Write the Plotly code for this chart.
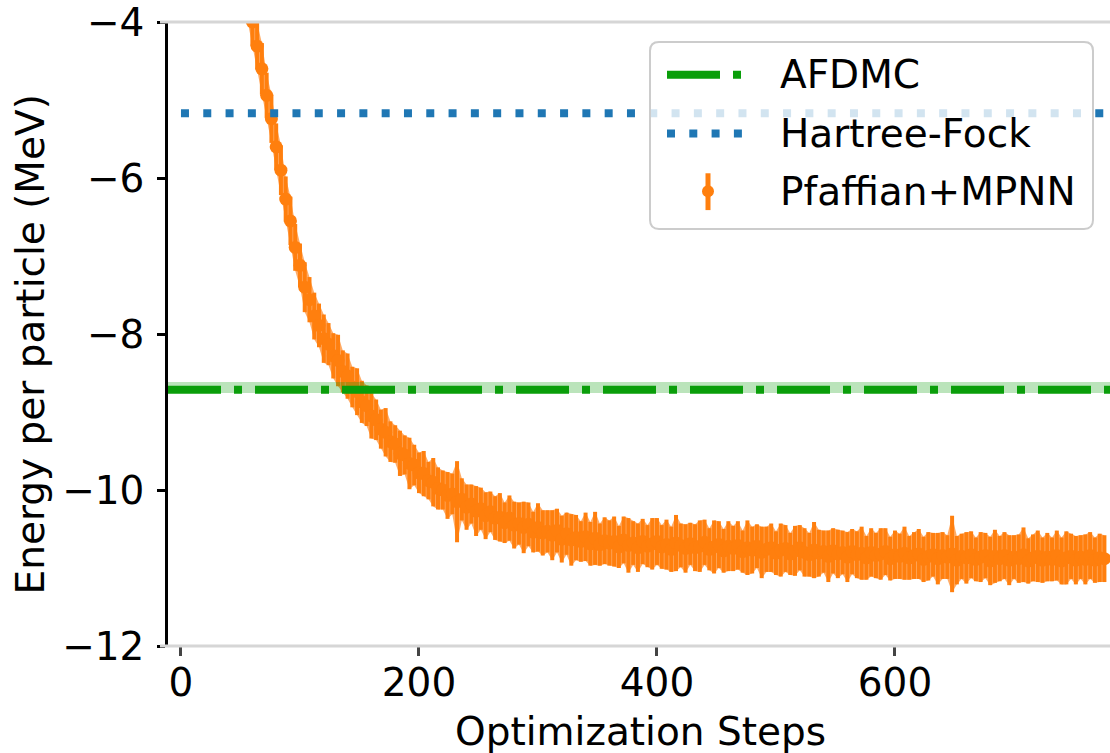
import plotly.graph_objects as go

# ---- data -------------------------------------------------------------
STEP_STRIDE = 4
steps = list(range(0, 780, STEP_STRIDE))

energy = [
    1.00, 0.70, 0.38, 0.08, -0.25, -0.60, -0.93, -1.30, -1.62, -2.00,
    -2.33, -2.70, -3.01, -3.36, -3.70, -4.00, -4.31, -4.60, -4.94, -5.24,
    -5.60, -5.90, -6.27, -6.55, -6.89, -7.12, -7.40, -7.56, -7.77, -7.89,
    -8.06, -8.13, -8.28, -8.34, -8.48, -8.54, -8.68, -8.74, -8.87, -8.92,
    -9.05, -9.10, -9.22, -9.26, -9.38, -9.41, -9.53, -9.55, -9.66, -9.68,
    -9.78, -9.79, -9.88, -9.90, -9.98, -10.00, -10.07, -10.05, -10.15, -10.12,
    -10.22, -10.18, -10.27, -10.24, -10.33, -10.28, -10.36, -10.35, -10.42, -10.36,
    -10.45, -10.43, -10.48, -10.44, -10.54, -10.48, -10.55, -10.53, -10.58, -10.52,
    -10.63, -10.56, -10.64, -10.61, -10.66, -10.60, -10.69, -10.62, -10.70, -10.65,
    -10.68, -10.66, -10.73, -10.64, -10.71, -10.68, -10.74, -10.66, -10.72, -10.69,
    -10.66, -10.73, -10.70, -10.76, -10.68, -10.71, -10.75, -10.69, -10.74, -10.72,
    -10.67, -10.76, -10.73, -10.70, -10.78, -10.72, -10.75, -10.71, -10.79, -10.74,
    -10.77, -10.72, -10.80, -10.76, -10.74, -10.81, -10.77, -10.75, -10.82, -10.78,
    -10.74, -10.80, -10.83, -10.77, -10.81, -10.79, -10.85, -10.78, -10.82, -10.80,
    -10.86, -10.79, -10.83, -10.81, -10.87, -10.80, -10.84, -10.82, -10.79, -10.88,
    -10.83, -10.85, -10.81, -10.87, -10.84, -10.82, -10.89, -10.85, -10.83, -10.88,
    -10.84, -10.86, -10.82, -10.90, -10.85, -10.87, -10.83, -10.89, -10.86, -10.84,
    -10.91, -10.85, -10.88, -10.84, -10.90, -10.86, -10.88, -10.83, -10.91, -10.87,
    -10.85, -10.90, -10.86, -10.89, -10.84, -10.91, -10.87, -10.85, -10.90, -10.86,
    -10.89, -10.84, -10.90, -10.87, -10.88,
]

energy_err = [
    0.30, 0.31, 0.29, 0.32, 0.30, 0.31, 0.29, 0.30, 0.32, 0.30,
    0.29, 0.31, 0.30, 0.32, 0.29, 0.31, 0.30, 0.33, 0.29, 0.31,
    0.30, 0.32, 0.29, 0.31, 0.30, 0.28, 0.32, 0.29, 0.30, 0.28,
    0.31, 0.27, 0.29, 0.33, 0.27, 0.29, 0.26, 0.30, 0.27, 0.26,
    0.29, 0.26, 0.25, 0.31, 0.26, 0.24, 0.29, 0.25, 0.33, 0.26,
    0.26, 0.29, 0.24, 0.31, 0.27, 0.25, 0.30, 0.26, 0.52, 0.27,
    0.29, 0.25, 0.32, 0.27, 0.30, 0.26, 0.28, 0.31, 0.26, 0.29,
    0.30, 0.27, 0.33, 0.28, 0.26, 0.31, 0.29, 0.27, 0.32, 0.28,
    0.30, 0.27, 0.33, 0.29, 0.26, 0.31, 0.28, 0.34, 0.27, 0.30,
    0.29, 0.32, 0.27, 0.30, 0.35, 0.28, 0.31, 0.29, 0.27, 0.33,
    0.30, 0.28, 0.32, 0.29, 0.36, 0.28, 0.31, 0.27, 0.30, 0.33,
    0.29, 0.27, 0.34, 0.30, 0.28, 0.32, 0.29, 0.31, 0.27, 0.35,
    0.30, 0.28, 0.33, 0.29, 0.31, 0.28, 0.34, 0.30, 0.27, 0.32,
    0.29, 0.31, 0.28, 0.36, 0.30, 0.27, 0.33, 0.29, 0.31, 0.28,
    0.32, 0.29, 0.30, 0.34, 0.28, 0.31, 0.29, 0.33, 0.30, 0.28,
    0.31, 0.29, 0.34, 0.28, 0.30, 0.32, 0.29, 0.31, 0.28, 0.33,
    0.30, 0.28, 0.49, 0.31, 0.29, 0.33, 0.30, 0.28, 0.32, 0.29,
    0.31, 0.34, 0.29, 0.30, 0.32, 0.28, 0.31, 0.35, 0.29, 0.30,
    0.33, 0.29, 0.31, 0.28, 0.32, 0.30, 0.34, 0.29, 0.31, 0.28,
    0.32, 0.30, 0.29, 0.31, 0.30,
]

HARTREE_FOCK = -5.17
AFDMC = -8.715
AFDMC_BAND = [-8.755, -8.615]

x_ticks = [0, 200, 400, 600]
y_ticks = [-12, -10, -8, -6, -4]
y_tick_text = ["\u221212", "\u221210", "\u22128", "\u22126", "\u22124"]

series_names = ["AFDMC", "Hartree-Fock", "Pfaffian+MPNN"]

# ---- styling ----------------------------------------------------------
ORANGE = "#ff7f0e"
ORANGE_LIGHT = "rgba(255,168,95,0.95)"
GREEN = "#0a9e0a"
BLUE = "#1f77b4"
FONT = "DejaVu Sans"
FS = 39

W, H = 1110, 753
PL, PR, PT, PB = 168, 1110, 19, 646  # plot area edges in pixels


def px_x(p):
    return (p - PL) / (PR - PL)


def px_y(p):
    return (PB - p) / (PB - PT)


upper = [e + d for e, d in zip(energy, energy_err)]
lower = [e - d for e, d in zip(energy, energy_err)]

fig = go.Figure()

# error envelope (light orange between the bars)
fig.add_trace(go.Scatter(x=steps, y=upper, mode="lines", line=dict(width=0),
                         hoverinfo="skip", showlegend=False))
fig.add_trace(go.Scatter(x=steps, y=lower, mode="lines", line=dict(width=0),
                         fill="tonexty", fillcolor=ORANGE_LIGHT,
                         hoverinfo="skip", showlegend=False))

# energy estimates with error bars
fig.add_trace(go.Scatter(
    x=steps, y=energy, mode="markers", name=series_names[2],
    marker=dict(size=13, color=ORANGE, line=dict(width=0)),
    error_y=dict(type="data", array=energy_err, visible=True,
                 thickness=4, width=0, color=ORANGE),
    showlegend=False,
))

shapes = []

# AFDMC uncertainty band and reference line
shapes.append(dict(type="rect", xref="x domain", yref="y", x0=0, x1=1,
                   y0=AFDMC_BAND[0], y1=AFDMC_BAND[1],
                   fillcolor="rgba(10,158,10,0.28)", line=dict(width=0),
                   layer="above"))
shapes.append(dict(type="line", xref="x domain", yref="y", x0=0, x1=1,
                   y0=AFDMC, y1=AFDMC, layer="above",
                   line=dict(color=GREEN, width=8, dash="53px,13px,8px,13px")))

# Hartree-Fock reference line
shapes.append(dict(type="line", xref="x", yref="y", x0=0, x1=790,
                   y0=HARTREE_FOCK, y1=HARTREE_FOCK, layer="above",
                   line=dict(color=BLUE, width=8, dash="8px,14.3px")))

# light top / bottom frame lines
for yy in (PT, PB):
    shapes.append(dict(type="line", xref="paper", yref="paper",
                       x0=px_x(160), x1=1.0, y0=px_y(yy), y1=px_y(yy),
                       line=dict(color="#d6d6d6", width=3), layer="above"))

# legend frame (rounded)
lx0, lx1, ly0, ly1, r = 650, 1093, 39, 227, 9
path = (
    f"M {px_x(lx0 + r)},{px_y(ly0)} L {px_x(lx1 - r)},{px_y(ly0)} "
    f"Q {px_x(lx1)},{px_y(ly0)} {px_x(lx1)},{px_y(ly0 + r)} "
    f"L {px_x(lx1)},{px_y(ly1 - r)} "
    f"Q {px_x(lx1)},{px_y(ly1)} {px_x(lx1 - r)},{px_y(ly1)} "
    f"L {px_x(lx0 + r)},{px_y(ly1)} "
    f"Q {px_x(lx0)},{px_y(ly1)} {px_x(lx0)},{px_y(ly1 - r)} "
    f"L {px_x(lx0)},{px_y(ly0 + r)} "
    f"Q {px_x(lx0)},{px_y(ly0)} {px_x(lx0 + r)},{px_y(ly0)} Z"
)
shapes.append(dict(type="path", xref="paper", yref="paper", path=path,
                   fillcolor="rgba(255,255,255,0.8)",
                   line=dict(color="#cccccc", width=2), layer="above"))

# legend handles
row_y = [72, 131, 189]
shapes.append(dict(type="line", xref="paper", yref="paper",
                   x0=px_x(667), x1=px_x(743), y0=px_y(row_y[0]), y1=px_y(row_y[0]),
                   line=dict(color=GREEN, width=8, dash="53px,13px,8px,13px"),
                   layer="above"))
shapes.append(dict(type="line", xref="paper", yref="paper",
                   x0=px_x(667), x1=px_x(745), y0=px_y(row_y[1]), y1=px_y(row_y[1]),
                   line=dict(color=BLUE, width=8, dash="8px,14.3px"),
                   layer="above"))
shapes.append(dict(type="line", xref="paper", yref="paper",
                   x0=px_x(708), x1=px_x(708), y0=px_y(171), y1=px_y(208),
                   line=dict(color=ORANGE, width=5), layer="above"))
shapes.append(dict(type="circle", xref="paper", yref="paper",
                   x0=px_x(702), x1=px_x(714), y0=px_y(row_y[2] - 6), y1=px_y(row_y[2] + 6),
                   fillcolor=ORANGE, line=dict(width=0), layer="above"))

annotations = []
for name, yy in zip(series_names, row_y):
    annotations.append(dict(text=name, xref="paper", yref="paper",
                            x=px_x(778), y=px_y(yy), xanchor="left", yanchor="middle",
                            showarrow=False, font=dict(family=FONT, size=FS, color="black")))

# axis titles
annotations.append(dict(text="Optimization Steps", xref="paper", yref="paper",
                        x=px_x(640), y=px_y(732), xanchor="center", yanchor="middle",
                        showarrow=False, font=dict(family=FONT, size=FS, color="black")))
annotations.append(dict(text="Energy per particle (MeV)", xref="paper", yref="paper",
                        x=px_x(30), y=px_y(343), xanchor="center", yanchor="middle",
                        textangle=-90, showarrow=False,
                        font=dict(family=FONT, size=FS, color="black")))

fig.update_layout(
    width=W, height=H,
    margin=dict(l=PL, r=W - PR, t=PT, b=H - PB, pad=0),
    paper_bgcolor="white", plot_bgcolor="white",
    showlegend=False,
    font=dict(family=FONT, size=FS, color="black"),
    shapes=shapes, annotations=annotations,
)
fig.update_xaxes(
    range=[-10.9, 780.7], tickmode="array", tickvals=x_ticks,
    ticks="outside", ticklen=9, tickwidth=2.5, tickcolor="#444444",
    ticklabelstandoff=-7,
    showgrid=False, zeroline=False, showline=False,
    tickfont=dict(family=FONT, size=FS, color="black"),
)
fig.update_yaxes(
    range=[-12, -4], tickmode="array", tickvals=y_ticks, ticktext=y_tick_text,
    ticks="outside", ticklen=8, tickwidth=2.5, tickcolor="black",
    ticklabelstandoff=5, ticklabeloverflow="allow",
    showgrid=False, zeroline=False, showline=True, linecolor="black", linewidth=2.5,
    tickfont=dict(family=FONT, size=FS, color="black"),
)

fig.write_html("out.html")
